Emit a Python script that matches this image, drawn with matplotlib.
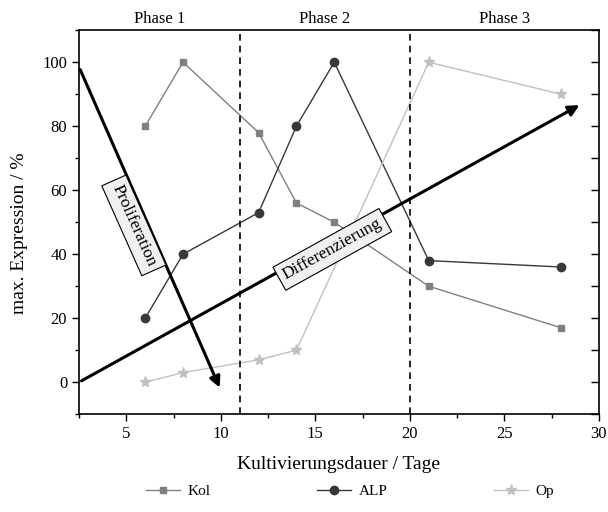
import matplotlib.pyplot as plt

plt.rcParams['font.family'] = ['Liberation Serif', 'DejaVu Serif']

# Messwerte (maximale Expression in %)
tage_kol = [6, 8, 12, 14, 16, 21, 28]
kol = [80, 100, 78, 56, 50, 30, 17]
tage_alp = [6, 8, 12, 14, 16, 21, 28]
alp = [20, 40, 53, 80, 100, 38, 36]
tage_op = [6, 8, 12, 14, 21, 28]
op = [0, 3, 7, 10, 100, 90]

phasen = ['Phase 1', 'Phase 2', 'Phase 3']
phasen_x = [6.75, 15.5, 25]
grenzen = [11, 20]

fig = plt.figure(figsize=(6.08, 5.12), dpi=100)
ax = fig.add_axes([0.130, 0.191, 0.855, 0.750])

ax.plot(tage_kol, kol, color='#808080', marker='s', markersize=5, lw=1, label='Kol')
ax.plot(tage_alp, alp, color='#383838', marker='o', markersize=6, lw=1, label='ALP')
ax.plot(tage_op, op, color='#c0c0c0', marker='*', markersize=8, lw=1, label='Op')

for g in grenzen:
    ax.axvline(g, color='black', ls=(0, (4, 3)), lw=1.2)

# Pfeile fuer Proliferation und Differenzierung
ax.annotate('', xy=(10.0, -2.5), xytext=(2.5, 98.5),
            arrowprops=dict(arrowstyle='-|>', color='black', lw=2.2, mutation_scale=16))
ax.annotate('', xy=(29.1, 87), xytext=(2.5, 0),
            arrowprops=dict(arrowstyle='-|>', color='black', lw=2.2, mutation_scale=16))

box = dict(boxstyle='square,pad=0.3', fc='#f0f0f0', ec='black', lw=0.8)
ax.text(5.4, 49, 'Proliferation', rotation=-66, ha='center', va='center',
        fontsize=12.5, bbox=box)
ax.text(15.9, 41.5, 'Differenzierung', rotation=29, ha='center', va='center',
        fontsize=12.5, bbox=box)

for name, x in zip(phasen, phasen_x):
    ax.text(x, 111, name, ha='center', va='bottom', fontsize=12)

ax.set_xlim(2.5, 30)
ax.set_ylim(-10, 110)
ax.set_xticks([5, 10, 15, 20, 25, 30])
ax.set_xticks([2.5, 7.5, 12.5, 17.5, 22.5, 27.5], minor=True)
ax.set_yticks([0, 20, 40, 60, 80, 100])
ax.set_yticks([-10, 10, 30, 50, 70, 90, 110], minor=True)
ax.tick_params(axis='both', which='both', direction='out', labelsize=12)
ax.tick_params(which='major', length=5, width=1)
ax.tick_params(which='minor', length=3, width=1)
for s in ax.spines.values():
    s.set_linewidth(1.2)

# rechte Achse: Striche nach innen, ohne Beschriftung
ax_r = ax.twinx()
ax_r.set_ylim(ax.get_ylim())
ax_r.set_yticks([0, 20, 40, 60, 80, 100])
ax_r.set_yticks([-10, 10, 30, 50, 70, 90, 110], minor=True)
ax_r.tick_params(axis='y', which='both', direction='in', length=6, width=1, labelright=False)
for s in ax_r.spines.values():
    s.set_visible(False)

ax.set_xlabel('Kultivierungsdauer / Tage', fontsize=14, labelpad=10)
ax.set_ylabel('max. Expression / %', fontsize=14)
ax.yaxis.set_label_coords(-0.098, 0.47)

fig.legend(*ax.get_legend_handles_labels(), loc='lower center',
           bbox_to_anchor=(0.576, 0.0), ncol=3, frameon=False,
           fontsize=11, handlelength=2.2, columnspacing=7.0, handletextpad=0.5)

fig.savefig('out.png', dpi=100)
